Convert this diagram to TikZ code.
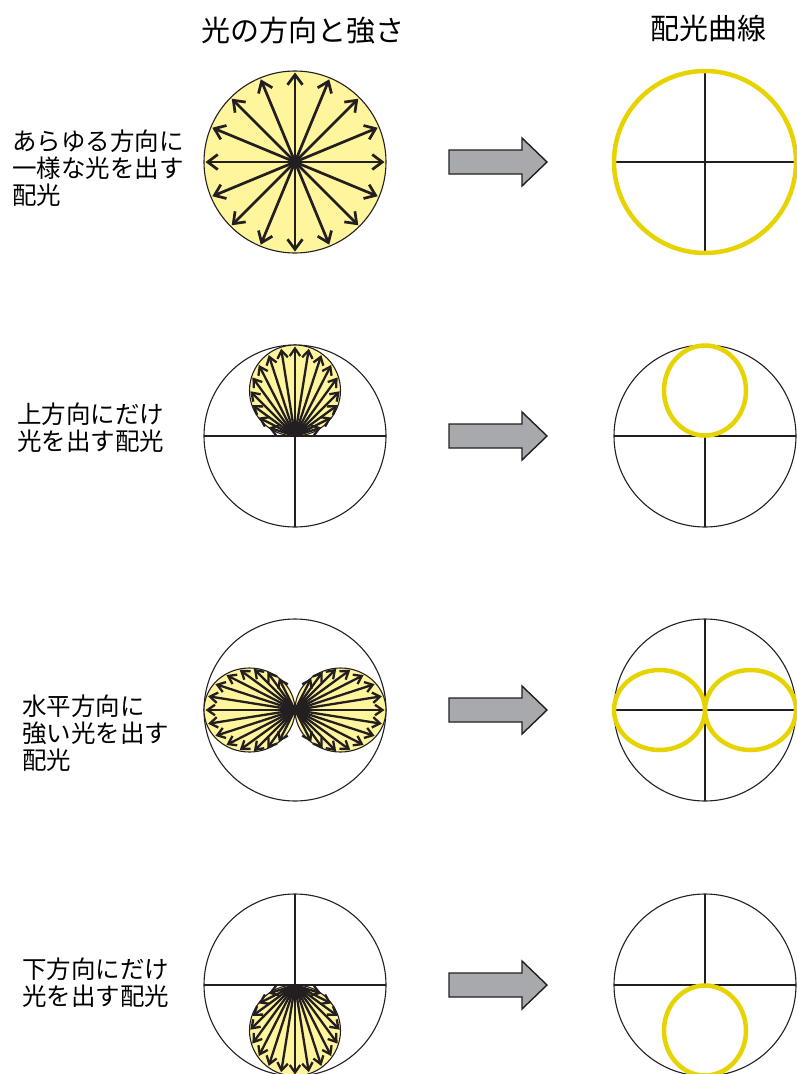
\documentclass[tikz,border=0pt]{standalone}
\usepackage{fontspec}
\newfontfamily\cjk{Noto Sans CJK JP}
\usetikzlibrary{arrows.meta}
\definecolor{lightyel}{HTML}{FFF59D}
\definecolor{curveyel}{HTML}{E6D300}
\definecolor{ink}{HTML}{231F20}
\definecolor{arrgray}{HTML}{A7A9AC}
\begin{document}
\begin{tikzpicture}[x=1pt,y=-1pt,
  frame/.style={draw=ink,line width=1.1pt},
  axis/.style={draw=ink,line width=1.1pt},
  lobe/.style={fill=lightyel,draw=ink,line width=1.1pt},
  curve/.style={draw=curveyel,line width=4.5pt},
  bigarr/.style={draw=ink,line width=2.7pt,-{Straight Barb[length=10pt,width=15pt]}},
  smarr/.style={draw=ink,line width=2.3pt,-{Straight Barb[length=7.5pt,width=10.5pt]}},
  bigarrow/.style={fill=arrgray,draw=ink,line width=1.4pt,line join=miter},
  title/.style={font=\cjk\fontsize{29}{32}\selectfont,inner sep=0pt},
  lab/.style={font=\cjk\fontsize{24.5}{27}\selectfont,align=left,anchor=west,inner sep=0pt}
]
\useasboundingbox (0,0) rectangle (797,1074);

% titles
\node[title] (t1) at (303,31) {光の方向と強さ};
\node[title] (t2) at (708,28) {配光曲線};

% labels
\node[lab] (l1) at (12,168) {あらゆる方向に\\一様な光を出す\\配光};
\node[lab] (l2) at (17,428) {上方向にだけ\\光を出す配光};
\node[lab] (l3) at (22,733) {水平方向に\\強い光を出す\\配光};
\node[lab] (l4) at (22,983) {下方向にだけ\\光を出す配光};

% centers
\coordinate (c1) at (295,162);
\coordinate (c2) at (295,436);
\coordinate (c3) at (295,710);
\coordinate (c4) at (295,985);
\coordinate (d1) at (705,162);
\coordinate (d2) at (705,436);
\coordinate (d3) at (705,710);
\coordinate (d4) at (705,985);

% ---------- row 1 ----------
\fill[lobe] (c1) circle (91);
\foreach \a in {0,22.5,...,337.5} \draw[bigarr] (c1) -- ++(\a:89.5);
\draw[frame] (d1) circle (91);
\draw[axis] ([xshift=-91pt]d1) -- ([xshift=91pt]d1);
\draw[axis] ([yshift=91pt]d1) -- ([yshift=-91pt]d1);
\draw[curve] (d1) circle (91);

% ---------- row 2 ----------
\draw[frame] (c2) circle (91);
\draw[axis] ([xshift=-91pt]c2) -- ([xshift=91pt]c2);
\draw[axis] (c2) -- ++(0,91);
\draw[lobe] (295,390.5) circle (45.5);
\foreach \k in {-8,...,8} {
  \pgfmathsetmacro\th{90+9*\k}
  \pgfmathsetmacro\r{89.5*sin(\th)}
  \draw[smarr] (c2) -- ++(-\th:\r);
}
\draw[frame] (d2) circle (91);
\draw[axis] ([xshift=-91pt]d2) -- ([xshift=91pt]d2);
\draw[axis] (d2) -- ++(0,91);
\draw[curve] (705,390.5) ellipse (41 and 45);

% ---------- row 3 ----------
\draw[frame] (c3) circle (91);
\draw[lobe] (249.5,710) ellipse (45.5 and 42);
\draw[lobe] (340.5,710) ellipse (45.5 and 42);
\foreach \p in {-63,-54,...,63} {
  \pgfmathsetmacro\t{89.5*cos(\p)/(cos(\p)^2+1.1736*sin(\p)^2)}
  \draw[smarr] (c3) -- ++(\p:\t);
  \draw[smarr] (c3) -- ++(180+\p:\t);
}
\draw[frame] (d3) circle (91);
\draw[axis] ([xshift=-91pt]d3) -- ([xshift=91pt]d3);
\draw[axis] ([yshift=91pt]d3) -- ([yshift=-91pt]d3);
\draw[curve] (659.5,710) ellipse (45.5 and 40);
\draw[curve] (750.5,710) ellipse (45.5 and 40);

% ---------- row 4 ----------
\draw[frame] (c4) circle (91);
\draw[axis] ([xshift=-91pt]c4) -- ([xshift=91pt]c4);
\draw[axis] (c4) -- ++(0,-91);
\draw[lobe] (295,1030.5) circle (45.5);
\foreach \k in {-8,...,8} {
  \pgfmathsetmacro\th{90+9*\k}
  \pgfmathsetmacro\r{89.5*sin(\th)}
  \draw[smarr] (c4) -- ++(\th:\r);
}
\draw[frame] (d4) circle (91);
\draw[axis] ([xshift=-91pt]d4) -- ([xshift=91pt]d4);
\draw[axis] (d4) -- ++(0,-91);
\draw[curve] (705,1030.5) ellipse (41 and 45);

% ---------- gray arrows ----------
\foreach \y in {162,436,710,985} {
  \draw[bigarrow] (449,\y-12) -- (522,\y-12) -- (522,\y-24) -- (547,\y)
     -- (522,\y+24) -- (522,\y+12) -- (449,\y+12) -- cycle;
}
\end{tikzpicture}
\end{document}
